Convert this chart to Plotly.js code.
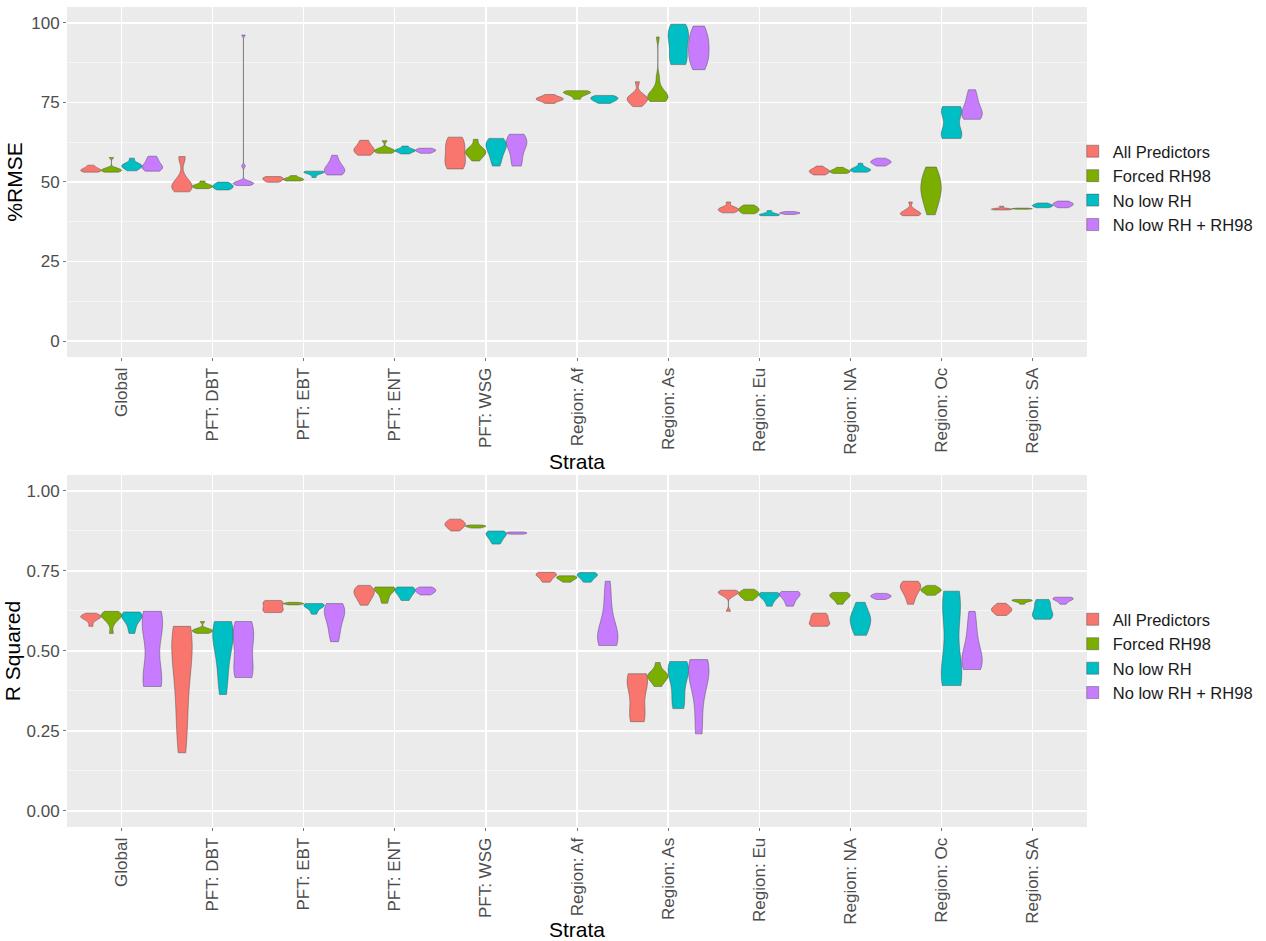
<!DOCTYPE html>
<html>
<head>
<meta charset="utf-8">
<script src="https://cdn.plot.ly/plotly-3.0.1.min.js"></script>
<style>html,body{margin:0;padding:0;background:#fff;}#chart{width:1266px;height:941px;}</style>
</head>
<body>
<div id="chart"></div>
<script>
// ---------------- DATA ----------------
const strata = ['Global','PFT: DBT','PFT: EBT','PFT: ENT','PFT: WSG','Region: Af','Region: As','Region: Eu','Region: NA','Region: Oc','Region: SA'];
const seriesNames = ['All Predictors','Forced RH98','No low RH','No low RH + RH98'];
const seriesColors = ['#F8766D','#7CAE00','#00BFC4','#C77CFF'];
const rmseTicks = [0,25,50,75,100];
const r2Ticks = [0,0.25,0.5,0.75,1];
const r2TickText = ['0.00','0.25','0.50','0.75','1.00'];

// %RMSE samples, one list per stratum (null = not available)
const rmseAllPredictors = [
  [53.1,53.3,53.5,53.6,53.8,54.0,54.3,54.7,55.3],
  [46.9,47.5,48.0,48.4,48.8,49.3,50.0,51.5,57.2,58.0],
  [49.9,50.2,50.5,50.8,51.0,51.3,51.5,51.7],
  [58.4,59.0,59.5,59.9,60.3,60.7,61.2,62.5,63.1],
  [54.1,54.8,55.6,56.5,58.0,59.5,61.0,62.2,63.2,64.1],
  [74.7,75.4,75.8,76.0,76.2,76.4,76.8,77.5],
  [73.7,74.6,75.3,75.8,76.1,76.5,77.0,77.8,81.5],
  [40.3,40.7,41.0,41.3,41.5,41.8,42.1,43.7],
  [52.2,52.6,53.0,53.3,53.5,53.8,54.1,55.0],
  [39.4,39.6,39.8,40.0,40.2,40.5,40.9,41.5,43.7],
  [41.2,41.3,41.4,41.5,41.6,41.7,42.4]
];
const rmseForcedRH98 = [
  [53.1,53.3,53.5,53.7,53.9,54.1,54.4,57.7],
  [47.9,48.2,48.4,48.6,48.8,49.0,49.3,50.3],
  [50.3,50.5,50.7,50.9,51.1,51.3,52.0],
  [59.0,59.3,59.6,59.9,60.2,60.5,63.0],
  [56.6,57.8,58.5,59.0,59.4,59.8,60.3,61.0,63.4],
  [76.0,77.0,77.6,77.9,78.1,78.3,78.5,78.7],
  [75.3,75.6,76.0,76.3,76.7,77.0,77.4,77.9,78.6,80.0,83.0,95.6],
  [40.0,40.4,40.8,41.2,41.5,41.8,42.2,42.8],
  [52.7,52.9,53.1,53.3,53.5,53.7,54.0,54.6],
  [39.7,42.0,44.0,45.5,46.8,47.8,48.8,50.0,51.5,53.0,54.7],
  [41.4,41.5,41.55,41.6,41.65,41.7,41.8]
];
const rmseNoLowRH = [
  [53.5,54.2,54.6,54.9,55.2,55.5,55.9,57.5],
  [47.5,47.9,48.2,48.5,48.8,49.1,49.5,50.0],
  [51.4,52.3,52.7,52.9,53.1,53.2,53.3,53.4],
  [58.8,59.4,59.7,59.9,60.1,60.4,61.3],
  [55.0,56.5,58.0,59.5,60.5,61.2,61.8,62.4,63.0,63.7],
  [74.7,75.3,75.7,76.0,76.3,76.6,76.9,77.2],
  [86.9,87.4,88.2,89.5,92.0,94.0,95.3,96.5,97.5,98.5,99.6],
  [39.4,39.5,39.6,39.7,39.8,40.0,40.3,41.0],
  [53.1,53.4,53.6,53.8,54.0,54.3,54.7,55.9],
  [63.7,64.0,64.4,64.9,65.5,66.3,70.8,71.6,72.3,72.9,73.4,73.7],
  [41.9,42.2,42.4,42.6,42.8,43.0,43.4]
];
const rmseNoLowRHRH98 = [
  [53.4,53.8,54.2,54.5,54.8,55.2,55.8,56.6,57.5,58.1],
  [48.9,49.1,49.3,49.5,49.6,49.8,50.0,50.3,55.0,96.2],
  [52.2,52.6,53.0,53.4,53.8,54.3,54.9,55.6,56.8,58.4],
  [59.0,59.4,59.7,59.9,60.1,60.3,60.6],
  [55.0,55.8,57.5,60.3,61.3,62.0,62.7,63.4,64.2,65.0],
  null,
  [85.3,86.5,87.8,89.0,90.2,91.4,92.6,93.8,95.0,96.3,97.5,99.0],
  [39.8,40.0,40.1,40.2,40.3,40.4,40.5,40.7],
  [55.0,55.5,55.9,56.2,56.4,56.6,56.9,57.5],
  [69.7,70.1,70.6,71.2,71.9,72.8,74.0,75.5,77.2,79.0],
  [41.9,42.3,42.6,42.9,43.1,43.3,43.6,44.0]
];

// R squared samples
const r2AllPredictors = [
  [0.577,0.592,0.600,0.603,0.606,0.608,0.610,0.613,0.618],
  [0.182,0.22,0.27,0.32,0.37,0.41,0.45,0.48,0.51,0.53,0.55,0.56,0.57,0.577],
  [0.620,0.624,0.628,0.632,0.645,0.650,0.654,0.658],
  [0.643,0.655,0.665,0.672,0.678,0.683,0.688,0.693,0.698,0.705],
  [0.875,0.882,0.888,0.892,0.895,0.898,0.902,0.907,0.912],
  [0.715,0.722,0.730,0.735,0.738,0.741,0.743,0.746],
  [0.279,0.285,0.295,0.310,0.345,0.385,0.400,0.410,0.418,0.424,0.429],
  [0.624,0.670,0.676,0.680,0.683,0.685,0.687,0.690],
  [0.577,0.580,0.584,0.588,0.592,0.603,0.609,0.614,0.618],
  [0.646,0.665,0.680,0.690,0.697,0.703,0.708,0.712,0.718],
  [0.611,0.618,0.624,0.628,0.631,0.635,0.640,0.649]
];
const r2ForcedRH98 = [
  [0.555,0.585,0.598,0.604,0.608,0.612,0.615,0.619,0.624],
  [0.555,0.558,0.561,0.563,0.565,0.567,0.570,0.592],
  [0.644,0.646,0.647,0.648,0.649,0.650,0.652],
  [0.649,0.662,0.675,0.688,0.692,0.695,0.697,0.699,0.700],
  [0.884,0.886,0.888,0.889,0.890,0.891,0.892,0.894],
  [0.715,0.720,0.724,0.727,0.729,0.731,0.733,0.735],
  [0.389,0.400,0.410,0.415,0.419,0.423,0.427,0.433,0.442,0.464],
  [0.658,0.666,0.672,0.676,0.679,0.682,0.686,0.693],
  [0.646,0.658,0.665,0.670,0.673,0.676,0.679,0.683],
  [0.674,0.681,0.686,0.689,0.691,0.694,0.698,0.705],
  [0.646,0.652,0.655,0.657,0.658,0.659,0.660,0.661]
];
const r2NoLowRH = [
  [0.555,0.572,0.590,0.600,0.606,0.610,0.614,0.618,0.622],
  [0.364,0.40,0.44,0.48,0.51,0.53,0.55,0.565,0.575,0.585,0.592],
  [0.615,0.625,0.633,0.638,0.641,0.643,0.645,0.647,0.648],
  [0.658,0.668,0.677,0.684,0.689,0.693,0.696,0.700],
  [0.834,0.842,0.850,0.857,0.862,0.866,0.869,0.872,0.875],
  [0.715,0.722,0.729,0.734,0.737,0.740,0.742,0.745],
  [0.320,0.328,0.340,0.370,0.405,0.425,0.437,0.446,0.453,0.460,0.467],
  [0.640,0.655,0.665,0.671,0.675,0.678,0.681,0.683],
  [0.549,0.556,0.570,0.585,0.595,0.602,0.608,0.615,0.640,0.652],
  [0.392,0.398,0.405,0.413,0.422,0.435,0.455,0.51,0.57,0.615,0.640,0.657,0.669,0.678,0.687],
  [0.599,0.603,0.608,0.613,0.619,0.626,0.640,0.651,0.656,0.661]
];
const r2NoLowRHRH98 = [
  [0.389,0.393,0.400,0.410,0.422,0.435,0.545,0.565,0.580,0.594,0.606,0.615,0.624],
  [0.417,0.425,0.435,0.448,0.49,0.53,0.55,0.565,0.578,0.592],
  [0.529,0.545,0.565,0.585,0.600,0.612,0.622,0.630,0.637,0.643,0.648],
  [0.675,0.680,0.684,0.687,0.690,0.693,0.696,0.700],
  [0.865,0.866,0.867,0.868,0.869,0.870,0.871,0.872],
  [0.517,0.522,0.527,0.533,0.540,0.548,0.558,0.572,0.600,0.640,0.680,0.718],
  [0.241,0.255,0.33,0.380,0.410,0.428,0.440,0.450,0.458,0.466,0.473],
  [0.640,0.652,0.664,0.672,0.677,0.680,0.683,0.686],
  [0.661,0.665,0.668,0.670,0.672,0.674,0.677,0.680],
  [0.442,0.447,0.453,0.460,0.468,0.478,0.492,0.51,0.535,0.565,0.595,0.624],
  [0.646,0.653,0.658,0.661,0.663,0.665,0.666,0.668]
];

// ---------------- BUILD ----------------
const panels = [
  {data:[rmseAllPredictors,rmseForcedRH98,rmseNoLowRH,rmseNoLowRHRH98], xa:'x', ya:'y', legend:'legend'},
  {data:[r2AllPredictors,r2ForcedRH98,r2NoLowRH,r2NoLowRHRH98], xa:'x2', ya:'y2', legend:'legend2'}
];
const traces = [];
panels.forEach((p, pi) => {
  const shown = [false,false,false,false];
  strata.forEach((cat, ci) => {
    const present = [];
    p.data.forEach((d, si) => { if (d[ci]) present.push(si); });
    const n = present.length;
    const w = 0.9 / n;
    present.forEach((si, j) => {
      traces.push({
        type:'violin',
        x0: (ci + 1) + (j - (n - 1) / 2) * w,
        y: p.data[si][ci],
        width: w,
        scalemode:'width',
        spanmode:'hard',
        points:false,
        box:{visible:false},
        meanline:{visible:false},
        fillcolor: seriesColors[si],
        line:{color:'rgba(70,70,70,0.75)', width:0.6},
        name: seriesNames[si],
        legendgroup: 'p' + pi + 's' + si,
        legend: p.legend,
        showlegend: !shown[si],
        xaxis: p.xa, yaxis: p.ya,
        hoverinfo:'name+y'
      });
      shown[si] = true;
    });
  });
});

const catVals = strata.map((s, i) => i + 1);
const xCommon = {
  range:[0.4, 11.6], tickvals: catVals, ticktext: strata, tickangle:-90,
  tickfont:{size:17, color:'#4d4d4d'}, showgrid:true, gridcolor:'#ffffff', gridwidth:1.2,
  zeroline:false, showline:false, ticks:'outside', ticklen:3, tickcolor:'#777', fixedrange:true,
  automargin:false
};
const yMinorGrid = {showgrid:true, gridcolor:'#ffffff', gridwidth:0.5, ticks:''};

const layout = {
  width:1266, height:941,
  margin:{l:67, r:179, t:7, b:114, autoexpand:false},
  paper_bgcolor:'#ffffff', plot_bgcolor:'#EBEBEB',
  font:{family:'"Liberation Sans", Arial, sans-serif', color:'#4d4d4d'},
  violinmode:'overlay',
  showlegend:true,
  xaxis: Object.assign({}, xCommon, {domain:[0,1], anchor:'y',
    title:{text:'Strata', font:{size:21, color:'#000'}, standoff:0}}),
  xaxis2: Object.assign({}, xCommon, {domain:[0,1], anchor:'y2',
    title:{text:'Strata', font:{size:21, color:'#000'}, standoff:0}}),
  yaxis:{domain:[0.5732,1], anchor:'x', range:[-5,105], tickvals:rmseTicks,
    tickfont:{size:17, color:'#4d4d4d'}, showgrid:true, gridcolor:'#ffffff', gridwidth:1.2,
    minor: Object.assign({dtick:12.5, tick0:12.5}, yMinorGrid),
    zeroline:false, showline:false, ticks:'outside', ticklen:3, tickcolor:'#777', automargin:false,
    title:{text:'%RMSE', font:{size:21, color:'#000'}, standoff:2}},
  yaxis2:{domain:[0,0.4293], anchor:'x2', range:[-0.05,1.05], tickvals:r2Ticks, ticktext:r2TickText,
    tickfont:{size:17, color:'#4d4d4d'}, showgrid:true, gridcolor:'#ffffff', gridwidth:1.2,
    minor: Object.assign({dtick:0.125, tick0:0.125}, yMinorGrid),
    zeroline:false, showline:false, ticks:'outside', ticklen:3, tickcolor:'#777', automargin:false,
    title:{text:'R Squared', font:{size:21, color:'#000'}, standoff:0}},
  legend:{x:0.986, xanchor:'left', y:0.7793, yanchor:'middle', bgcolor:'rgba(0,0,0,0)',
    font:{size:16.5, color:'#1a1a1a'}, tracegroupgap:0, itemwidth:30, traceorder:'normal'},
  legend2:{x:0.986, xanchor:'left', y:0.2085, yanchor:'middle', bgcolor:'rgba(0,0,0,0)',
    font:{size:16.5, color:'#1a1a1a'}, tracegroupgap:0, itemwidth:30, traceorder:'normal'}
};

Plotly.newPlot('chart', traces, layout, {displayModeBar:false, staticPlot:true});
</script>
</body>
</html>
